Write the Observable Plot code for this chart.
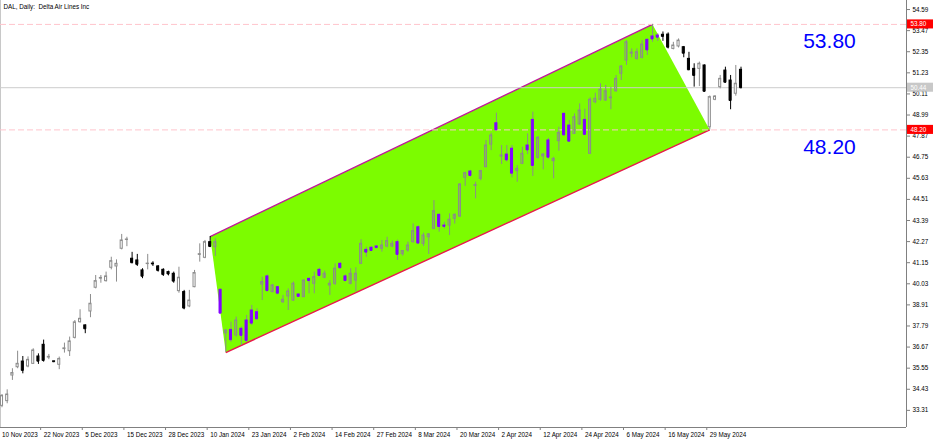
<!DOCTYPE html>
<html><head><meta charset="utf-8">
<script src="https://cdn.jsdelivr.net/npm/d3@7"></script>
<script src="https://cdn.jsdelivr.net/npm/@observablehq/plot@0.6"></script>
<style>html,body{margin:0;padding:0;background:#fff;overflow:hidden}svg{display:block}</style>
</head><body><div id="chart"></div>
<script>
const title = "DAL, Daily:  Delta Air Lines Inc";
const firstDate = "2023-11-10";
const holidays = ["2023-11-23","2023-12-25","2024-01-01","2024-01-15","2024-02-19","2024-03-29","2024-05-27"];

const open = [33.55,33.8,35.16,35.6,35.9,35.64,35.78,36.17,36.79,36.12,35.91,35.73,36.56,36.45,37.16,37.99,37.82,38.56,39.82,40.31,
40.17,40.88,40.95,41.89,42.36,41.36,41.27,40.74,41.08,41.1,40.95,40.77,40.65,40.56,39.64,39.59,38.83,39.85,41.57,41.41,
42.24,41.97,39.71,37.4,37.58,37.29,37.64,38.08,38.61,38.52,39.99,40.42,39.59,39.85,39.05,39.36,39.14,39.46,39.32,40.29,
40.03,40.77,40.35,39.94,40.03,41.09,40.42,40.03,40.2,41.09,41.83,41.94,42.01,41.89,42.01,42.01,42.24,41.6,41.8,42.24,
43.03,42.15,42.5,42.95,43.69,43.12,43.12,43.48,43.6,45.66,45.99,45.23,45.6,46.22,47.42,48.55,46.79,46.89,47.2,46.01,
46.4,47.37,48.73,46.72,46.79,47.64,46.54,47.6,49.05,48.43,47.99,48.49,48.73,46.93,49.67,49.8,49.76,49.88,50.25,51.18,
51.88,52.25,51.97,52.03,52.98,53.16,53.21,53.25,53.26,52.5,52.63,52.59,51.97,51.44,51.44,51.62,48.34,49.8,50.47,51.35,
50.82,50.12,51.39];
const high = [34.15,34.4,35.52,36.45,36.17,36.15,36.58,36.31,37.04,36.28,35.93,36.14,36.88,37.2,38.08,38.65,37.85,39.46,40.47,40.47,
40.65,41.44,41.3,42.65,42.5,41.7,41.59,40.83,41.59,41.2,41.0,40.83,40.7,40.65,40.91,39.68,39.68,40.74,42.15,42.33,
42.54,42.42,39.75,37.6,37.99,38.26,37.73,38.35,38.88,38.7,40.38,40.5,40.0,39.9,39.41,39.76,40.12,39.5,40.25,40.33,
40.65,40.85,40.7,40.2,41.09,41.15,40.5,40.83,40.88,42.37,41.97,42.0,42.05,42.33,42.5,42.3,42.35,41.8,42.24,43.21,
43.1,42.72,42.7,44.45,43.74,43.3,43.74,43.74,45.35,45.95,46.05,45.42,46.05,47.64,48.02,49.09,47.37,47.37,47.37,46.31,
47.28,47.99,49.14,47.85,46.95,47.75,46.75,48.34,49.1,48.7,49.05,49.58,49.3,49.9,50.15,50.65,50.56,50.46,51.09,51.62,
52.94,52.5,52.5,52.94,53.03,53.8,53.3,53.4,53.35,52.85,53.03,52.63,52.32,51.71,51.8,51.65,50.0,50.02,51.09,51.53,
51.09,51.62,51.53];
const low = [33.45,33.66,34.9,35.52,35.25,35.57,35.75,35.75,35.87,36.0,35.86,35.47,36.35,36.17,37.1,37.94,37.38,38.23,39.76,40.06,
40.12,40.77,40.12,41.83,42.0,41.09,40.95,40.3,40.77,40.95,40.65,40.42,40.45,40.06,39.53,38.65,38.76,39.82,41.18,41.36,
41.95,41.48,38.45,36.38,36.93,37.2,36.75,36.93,37.82,38.1,39.14,39.6,39.55,39.45,38.99,38.61,39.1,39.3,39.3,39.5,
39.5,40.4,40.3,39.41,39.94,40.85,40.15,39.98,39.59,41.06,41.44,41.75,41.9,41.71,41.94,41.95,41.27,41.5,41.71,42.19,
42.15,42.01,41.59,42.9,42.77,42.95,42.59,43.2,43.55,45.2,45.7,44.54,45.5,46.19,47.1,48.17,46.36,46.5,45.66,45.42,
46.36,46.89,45.73,46.65,46.08,46.65,45.6,47.07,47.85,47.55,47.96,48.43,47.9,46.9,49.59,49.72,49.72,49.27,50.2,50.82,
51.62,52.03,51.9,51.97,52.15,52.85,52.9,52.9,52.5,52.45,52.55,52.03,51.35,50.47,50.5,50.2,48.2,49.75,50.38,50.68,
49.27,49.99,50.38];
const close = [34.08,34.15,35.29,35.78,35.43,35.99,36.49,35.92,35.96,36.15,35.89,36.04,36.6,36.97,37.98,38.17,37.64,38.97,40.17,40.34,
40.42,41.23,41.09,42.33,42.38,41.15,41.06,40.43,41.1,41.08,40.74,40.52,40.55,40.17,40.35,38.74,39.14,40.6,41.6,42.24,
42.01,42.24,38.47,37.55,37.06,38.08,37.29,37.02,37.94,38.17,40.12,39.67,39.94,39.53,39.18,39.62,40.03,39.36,40.2,40.2,
40.38,40.47,40.56,40.03,40.83,40.88,40.2,40.56,40.56,42.15,41.71,41.8,41.95,42.06,42.3,42.15,41.59,41.77,42.06,42.82,
42.19,42.59,42.65,43.88,43.07,43.08,43.43,43.69,45.3,45.9,45.78,45.27,46.01,47.37,47.9,48.2,46.84,46.61,45.9,46.13,
46.93,47.14,46.31,47.78,46.89,46.75,46.66,48.04,47.94,47.6,48.87,49.23,47.96,49.8,49.85,50.33,50.25,49.92,50.91,51.56,
52.85,52.3,52.32,52.73,52.45,53.03,53.12,53.16,52.59,52.68,52.94,52.27,51.39,51.09,51.71,50.25,49.94,49.97,50.91,50.73,
49.76,50.65,50.44];

const yTicks = [54.59,53.47,52.35,51.23,50.11,48.99,47.87,46.75,45.63,44.51,43.39,42.27,41.15,40.03,38.91,37.79,36.67,35.55,34.43,33.31];
const xTickDates = ["2023-11-10","2023-11-22","2023-12-05","2023-12-15","2023-12-28","2024-01-10","2024-01-23","2024-02-02","2024-02-14",
"2024-02-27","2024-03-08","2024-03-20","2024-04-02","2024-04-12","2024-04-24","2024-05-06","2024-05-16","2024-05-29"];
const channelDates = ["2024-01-10","2024-05-13","2024-05-29","2024-01-16"];
const channelPrices = [42.54, 53.80, 48.20, 36.38];
const levelPrices = [53.80, 48.20];
const levelLabels = ["53.80", "48.20"];
const lastPrice = 50.44;

// trading-day calendar
const dates = [];
for (let t = Date.parse(firstDate + "T00:00:00Z"); dates.length < open.length; t += 86400000) {
  const dt = new Date(t), s = dt.toISOString().slice(0, 10), wd = dt.getUTCDay();
  if (wd !== 0 && wd !== 6 && !holidays.includes(s)) dates.push(s);
}
const idx = s => dates.indexOf(s);
const fmt = d3.utcFormat("%-d %b %Y");

const xMin = -0.288, xMax = 173.8;
const yMin = 32.40, yMax = 55.07;

const poly = channelDates.map((d, k) => ({x: idx(d), y: channelPrices[k]}));
function inside(px, py) {
  let c = false;
  for (let a = 0, b = poly.length - 1; a < poly.length; b = a++) {
    const A = poly[a], B = poly[b];
    if ((A.y > py) !== (B.y > py) && px < (B.x - A.x) * (py - A.y) / (B.y - A.y) + A.x) c = !c;
  }
  return c;
}
const bars = open.map((o, i) => {
  const c = close[i], bull = c >= o, inn = inside(i, (o + c) / 2);
  return {i, o, h: high[i], l: low[i], c, bull, inn,
    fill: bull ? (inn ? "none" : "white") : (inn ? "#8303ff" : "black"),
    stroke: bull ? "#8c8c8c" : (inn ? "#8303ff" : "black"),
    wick: bull ? "#8c8c8c" : (inn ? "#8c8c8c" : "black")};
});
const levels = levelPrices.map((p, k) => ({p, t: levelLabels[k]}));
const hw = 0.2;
const font = "Liberation Sans, Arial, sans-serif";

const chart = Plot.plot({
  width: 936, height: 442,
  marginLeft: 0, marginRight: 30, marginTop: 0, marginBottom: 15,
  x: {type: "linear", domain: [xMin, xMax]},
  y: {domain: [yMin, yMax]},
  style: {fontFamily: font, fontSize: "6.3px", background: "white", color: "black"},
  marks: [
    Plot.ruleX([xMin], {stroke: "#c8c8c8"}),
    Plot.line(poly.concat([poly[0]]), {x: "x", y: "y", fill: "#7cfc00", stroke: "none"}),
    Plot.link([[poly[0], poly[1]]], {x1: d => d[0].x, y1: d => d[0].y, x2: d => d[1].x, y2: d => d[1].y, stroke: "#c0189a", strokeWidth: 1.4}),
    Plot.link([[poly[3], poly[2]]], {x1: d => d[0].x, y1: d => d[0].y, x2: d => d[1].x, y2: d => d[1].y, stroke: "#e8184c", strokeWidth: 1.4}),
    Plot.ruleY(levelPrices, {stroke: "#ffc4cc", strokeDasharray: "6,3"}),
    Plot.ruleY([lastPrice], {stroke: "#cccccc"}),
    Plot.ruleX(bars, {x: "i", y1: "l", y2: "h", stroke: "wick"}),
    Plot.rect(bars, {x1: d => d.i - hw, x2: d => d.i + hw, y1: "o", y2: "c", fill: "fill", stroke: "stroke"}),
    Plot.ruleY(bars, {y: "c", x1: d => d.i - hw, x2: d => d.i + hw, stroke: "stroke"}),
    Plot.ruleY([yMin], {stroke: "#808080"}),
    Plot.ruleX([xMax], {stroke: "#808080"}),
    Plot.axisY({anchor: "right", ticks: yTicks, tickFormat: d => d.toFixed(2), tickSize: 3, tickPadding: 3, stroke: "#808080", fill: "black", fontSize: 6.3}),
    Plot.axisX({anchor: "bottom", ticks: xTickDates.map(idx), tickFormat: i => fmt(new Date(dates[i] + "T00:00:00Z")), tickSize: 0, tickPadding: 5, textAnchor: "start", fill: "black", fontSize: 6.3}),
    Plot.ruleX(xTickDates.map(idx), {x: d => d, y1: yMin, y2: yMin - 0.16, dx: -3, stroke: "#808080"}),
    Plot.rect([lastPrice], {x1: () => xMax, x2: () => xMax, y1: d => d - 0.24, y2: d => d + 0.24, insetLeft: 1, insetRight: -27, fill: "#c8c8c8"}),
    Plot.text([lastPrice], {x: () => xMax, y: d => d, text: d => d.toFixed(2), dx: 4, textAnchor: "start", fill: "white", fontSize: 6.3}),
    Plot.rect(levels, {x1: () => xMax, x2: () => xMax, y1: d => d.p - 0.24, y2: d => d.p + 0.24, insetLeft: 1, insetRight: -27, fill: "#ff0000"}),
    Plot.text(levels, {x: () => xMax, y: "p", text: "t", dx: 4, textAnchor: "start", fill: "white", fontSize: 6.3}),
    Plot.text(levels, {x: () => 159, y: d => d.p - 0.92, text: "t", fill: "#0000ff", fontSize: 21, textAnchor: "middle"}),
    Plot.text([title], {frameAnchor: "top-left", text: d => d, dx: 3, dy: 4, fill: "black", fontSize: 6.3})
  ]
});
document.getElementById("chart").appendChild(chart);
</script>
</body></html>
